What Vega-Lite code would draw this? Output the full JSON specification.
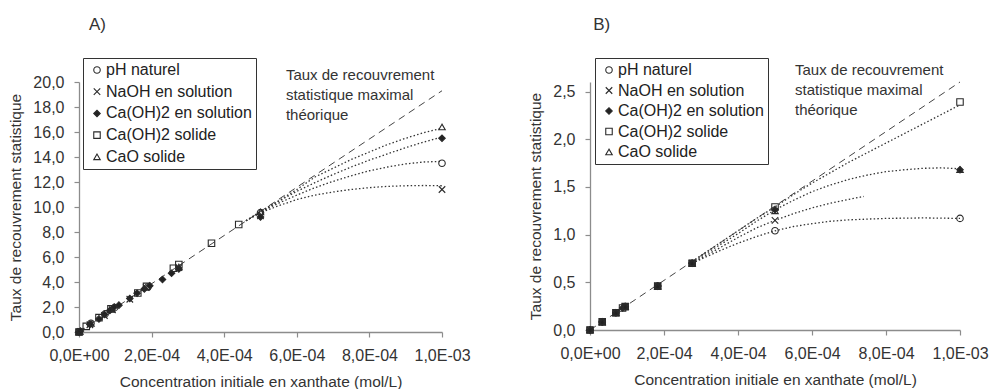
{
  "$schema": "https://vega.github.io/schema/vega-lite/v6.json",
  "padding": {"left": 8, "top": 15, "right": 5, "bottom": 5},
  "spacing": 57,
  "config": {
    "font": "Liberation Sans",
    "view": {"stroke": null},
    "axis": {"grid": false, "domainColor": "#8c8c8c", "domainWidth": 1.3, "tickColor": "#8c8c8c", "tickWidth": 1.2, "tickSize": 5, "labelFont": "Liberation Sans", "labelFontSize": 16, "labelColor": "#333", "titleFont": "Liberation Sans", "titleFontSize": 15.5, "titleFontWeight": "normal", "titleColor": "#333", "labelOverlap": false, "labelFlush": false},
    "axisX": {"labelPadding": 10, "titlePadding": 11},
    "axisY": {"labelPadding": 10, "titlePadding": 9},
    "legend": {"labelFont": "Liberation Sans", "labelFontSize": 16, "labelColor": "#222", "strokeColor": "#333", "fillColor": "white", "padding": 4, "symbolSize": 42, "symbolStrokeColor": "#2a2a2a", "symbolStrokeWidth": 1.1, "symbolOffset": 2, "labelOffset": 1}
  },
  "datasets": {
    "lineA": [{"x": 0, "y": 0}, {"x": 0.001, "y": 19.3}],
    "lineB": [{"x": 0, "y": 0}, {"x": 0.001, "y": 2.6}],
    "annA": [{"x": 0.00057, "y": 21.1, "t": "Taux de recouvrement\nstatistique maximal\nthéorique"}],
    "annB": [{"x": 0.000554, "y": 2.8, "t": "Taux de recouvrement\nstatistique maximal\nthéorique"}],
    "labA": [{"x": 0.0000275, "y": 24.56, "t": "A)"}],
    "labB": [{"x": 0.0000085, "y": 3.2, "t": "B)"}],
    "ptsA": [
      {"x": 0, "y": 0, "serie": "pH naturel"},
      {"x": 0, "y": 0, "serie": "NaOH en solution"},
      {"x": 0, "y": 0, "serie": "Ca(OH)2 en solution"},
      {"x": 0, "y": 0, "serie": "Ca(OH)2 solide"},
      {"x": 0, "y": 0, "serie": "CaO solide"},
      {"x": 0.000004, "y": 0.08, "serie": "Ca(OH)2 en solution"},
      {"x": 0.000004, "y": 0.05, "serie": "NaOH en solution"},
      {"x": 0.00002, "y": 0.45, "serie": "Ca(OH)2 solide"},
      {"x": 0.00003, "y": 0.6, "serie": "Ca(OH)2 en solution"},
      {"x": 0.00003, "y": 0.58, "serie": "NaOH en solution"},
      {"x": 0.000033, "y": 0.7, "serie": "pH naturel"},
      {"x": 0.000033, "y": 0.68, "serie": "CaO solide"},
      {"x": 0.000055, "y": 1.15, "serie": "Ca(OH)2 solide"},
      {"x": 0.000055, "y": 1.05, "serie": "Ca(OH)2 en solution"},
      {"x": 0.00007, "y": 1.4, "serie": "Ca(OH)2 en solution"},
      {"x": 0.00007, "y": 1.32, "serie": "NaOH en solution"},
      {"x": 0.000072, "y": 1.45, "serie": "pH naturel"},
      {"x": 0.000085, "y": 1.72, "serie": "Ca(OH)2 en solution"},
      {"x": 0.000088, "y": 1.85, "serie": "Ca(OH)2 solide"},
      {"x": 0.000092, "y": 1.78, "serie": "NaOH en solution"},
      {"x": 0.00009, "y": 1.85, "serie": "CaO solide"},
      {"x": 0.000097, "y": 2.0, "serie": "Ca(OH)2 en solution"},
      {"x": 0.000098, "y": 1.95, "serie": "pH naturel"},
      {"x": 0.00011, "y": 2.15, "serie": "Ca(OH)2 en solution"},
      {"x": 0.00014, "y": 2.68, "serie": "Ca(OH)2 en solution"},
      {"x": 0.00014, "y": 2.62, "serie": "NaOH en solution"},
      {"x": 0.00016, "y": 3.1, "serie": "Ca(OH)2 en solution"},
      {"x": 0.000162, "y": 3.12, "serie": "Ca(OH)2 solide"},
      {"x": 0.00018, "y": 3.45, "serie": "Ca(OH)2 en solution"},
      {"x": 0.000185, "y": 3.55, "serie": "NaOH en solution"},
      {"x": 0.000186, "y": 3.65, "serie": "Ca(OH)2 solide"},
      {"x": 0.00019, "y": 3.6, "serie": "pH naturel"},
      {"x": 0.000195, "y": 3.7, "serie": "Ca(OH)2 en solution"},
      {"x": 0.00023, "y": 4.2, "serie": "Ca(OH)2 en solution"},
      {"x": 0.000255, "y": 4.7, "serie": "Ca(OH)2 en solution"},
      {"x": 0.00026, "y": 5.1, "serie": "Ca(OH)2 solide"},
      {"x": 0.000275, "y": 5.05, "serie": "Ca(OH)2 en solution"},
      {"x": 0.000275, "y": 5.15, "serie": "NaOH en solution"},
      {"x": 0.000275, "y": 5.4, "serie": "Ca(OH)2 solide"},
      {"x": 0.000275, "y": 5.2, "serie": "CaO solide"},
      {"x": 0.000365, "y": 7.1, "serie": "Ca(OH)2 solide"},
      {"x": 0.00044, "y": 8.6, "serie": "Ca(OH)2 solide"},
      {"x": 0.0005, "y": 9.55, "serie": "pH naturel"},
      {"x": 0.0005, "y": 9.3, "serie": "NaOH en solution"},
      {"x": 0.0005, "y": 9.2, "serie": "Ca(OH)2 en solution"},
      {"x": 0.0005, "y": 9.6, "serie": "CaO solide"},
      {"x": 0.001, "y": 16.4, "serie": "CaO solide"},
      {"x": 0.001, "y": 15.5, "serie": "Ca(OH)2 en solution"},
      {"x": 0.001, "y": 13.5, "serie": "pH naturel"},
      {"x": 0.001, "y": 11.4, "serie": "NaOH en solution"}
    ],
    "curvesA": [
      {"x": 0.00046, "y": 8.9, "serie": "NaOH en solution"},
      {"x": 0.0005, "y": 9.55, "serie": "NaOH en solution"},
      {"x": 0.00055, "y": 10.1, "serie": "NaOH en solution"},
      {"x": 0.0006, "y": 10.6, "serie": "NaOH en solution"},
      {"x": 0.00065, "y": 10.95, "serie": "NaOH en solution"},
      {"x": 0.0007, "y": 11.2, "serie": "NaOH en solution"},
      {"x": 0.00075, "y": 11.4, "serie": "NaOH en solution"},
      {"x": 0.0008, "y": 11.55, "serie": "NaOH en solution"},
      {"x": 0.00085, "y": 11.65, "serie": "NaOH en solution"},
      {"x": 0.0009, "y": 11.7, "serie": "NaOH en solution"},
      {"x": 0.00095, "y": 11.72, "serie": "NaOH en solution"},
      {"x": 0.001, "y": 11.7, "serie": "NaOH en solution"},
      {"x": 0.00046, "y": 8.9, "serie": "pH naturel"},
      {"x": 0.0005, "y": 9.6, "serie": "pH naturel"},
      {"x": 0.00055, "y": 10.3, "serie": "pH naturel"},
      {"x": 0.0006, "y": 10.95, "serie": "pH naturel"},
      {"x": 0.00065, "y": 11.55, "serie": "pH naturel"},
      {"x": 0.0007, "y": 12.05, "serie": "pH naturel"},
      {"x": 0.00075, "y": 12.5, "serie": "pH naturel"},
      {"x": 0.0008, "y": 12.9, "serie": "pH naturel"},
      {"x": 0.00085, "y": 13.2, "serie": "pH naturel"},
      {"x": 0.0009, "y": 13.45, "serie": "pH naturel"},
      {"x": 0.00095, "y": 13.6, "serie": "pH naturel"},
      {"x": 0.001, "y": 13.65, "serie": "pH naturel"},
      {"x": 0.00046, "y": 8.9, "serie": "Ca(OH)2 en solution"},
      {"x": 0.0005, "y": 9.6, "serie": "Ca(OH)2 en solution"},
      {"x": 0.00055, "y": 10.45, "serie": "Ca(OH)2 en solution"},
      {"x": 0.0006, "y": 11.25, "serie": "Ca(OH)2 en solution"},
      {"x": 0.00065, "y": 11.95, "serie": "Ca(OH)2 en solution"},
      {"x": 0.0007, "y": 12.6, "serie": "Ca(OH)2 en solution"},
      {"x": 0.00075, "y": 13.2, "serie": "Ca(OH)2 en solution"},
      {"x": 0.0008, "y": 13.75, "serie": "Ca(OH)2 en solution"},
      {"x": 0.00085, "y": 14.25, "serie": "Ca(OH)2 en solution"},
      {"x": 0.0009, "y": 14.75, "serie": "Ca(OH)2 en solution"},
      {"x": 0.00095, "y": 15.2, "serie": "Ca(OH)2 en solution"},
      {"x": 0.001, "y": 15.6, "serie": "Ca(OH)2 en solution"},
      {"x": 0.00046, "y": 8.9, "serie": "CaO solide"},
      {"x": 0.0005, "y": 9.65, "serie": "CaO solide"},
      {"x": 0.00055, "y": 10.5, "serie": "CaO solide"},
      {"x": 0.0006, "y": 11.4, "serie": "CaO solide"},
      {"x": 0.00065, "y": 12.4, "serie": "CaO solide"},
      {"x": 0.0007, "y": 13.1, "serie": "CaO solide"},
      {"x": 0.00075, "y": 13.8, "serie": "CaO solide"},
      {"x": 0.0008, "y": 14.4, "serie": "CaO solide"},
      {"x": 0.00085, "y": 15.0, "serie": "CaO solide"},
      {"x": 0.0009, "y": 15.5, "serie": "CaO solide"},
      {"x": 0.00095, "y": 15.95, "serie": "CaO solide"},
      {"x": 0.001, "y": 16.3, "serie": "CaO solide"}
    ],
    "ptsB": [
      {"x": 0, "y": 0, "serie": "pH naturel"},
      {"x": 0, "y": 0, "serie": "NaOH en solution"},
      {"x": 0, "y": 0, "serie": "Ca(OH)2 en solution"},
      {"x": 0, "y": 0, "serie": "Ca(OH)2 solide"},
      {"x": 0, "y": 0, "serie": "CaO solide"},
      {"x": 0.000033, "y": 0.085, "serie": "pH naturel"},
      {"x": 0.000033, "y": 0.085, "serie": "NaOH en solution"},
      {"x": 0.000033, "y": 0.085, "serie": "Ca(OH)2 en solution"},
      {"x": 0.000033, "y": 0.085, "serie": "Ca(OH)2 solide"},
      {"x": 0.000033, "y": 0.085, "serie": "CaO solide"},
      {"x": 0.00007, "y": 0.18, "serie": "pH naturel"},
      {"x": 0.00007, "y": 0.18, "serie": "NaOH en solution"},
      {"x": 0.00007, "y": 0.18, "serie": "Ca(OH)2 en solution"},
      {"x": 0.00007, "y": 0.18, "serie": "Ca(OH)2 solide"},
      {"x": 0.00007, "y": 0.18, "serie": "CaO solide"},
      {"x": 0.000088, "y": 0.23, "serie": "Ca(OH)2 en solution"},
      {"x": 0.000088, "y": 0.23, "serie": "Ca(OH)2 solide"},
      {"x": 0.000095, "y": 0.245, "serie": "pH naturel"},
      {"x": 0.000095, "y": 0.245, "serie": "NaOH en solution"},
      {"x": 0.000095, "y": 0.245, "serie": "Ca(OH)2 en solution"},
      {"x": 0.000095, "y": 0.245, "serie": "Ca(OH)2 solide"},
      {"x": 0.000095, "y": 0.245, "serie": "CaO solide"},
      {"x": 0.000183, "y": 0.46, "serie": "pH naturel"},
      {"x": 0.000183, "y": 0.46, "serie": "NaOH en solution"},
      {"x": 0.000183, "y": 0.46, "serie": "Ca(OH)2 en solution"},
      {"x": 0.000183, "y": 0.46, "serie": "Ca(OH)2 solide"},
      {"x": 0.000183, "y": 0.46, "serie": "CaO solide"},
      {"x": 0.000276, "y": 0.7, "serie": "pH naturel"},
      {"x": 0.000276, "y": 0.7, "serie": "NaOH en solution"},
      {"x": 0.000276, "y": 0.7, "serie": "Ca(OH)2 en solution"},
      {"x": 0.000276, "y": 0.7, "serie": "Ca(OH)2 solide"},
      {"x": 0.000276, "y": 0.7, "serie": "CaO solide"},
      {"x": 0.0005, "y": 1.29, "serie": "Ca(OH)2 solide"},
      {"x": 0.0005, "y": 1.26, "serie": "Ca(OH)2 en solution"},
      {"x": 0.0005, "y": 1.25, "serie": "CaO solide"},
      {"x": 0.0005, "y": 1.15, "serie": "NaOH en solution"},
      {"x": 0.0005, "y": 1.04, "serie": "pH naturel"},
      {"x": 0.001, "y": 2.39, "serie": "Ca(OH)2 solide"},
      {"x": 0.001, "y": 1.68, "serie": "Ca(OH)2 en solution"},
      {"x": 0.001, "y": 1.68, "serie": "CaO solide"},
      {"x": 0.001, "y": 1.17, "serie": "pH naturel"}
    ],
    "curvesB": [
      {"x": 0.000276, "y": 0.7, "serie": "pH naturel"},
      {"x": 0.00035, "y": 0.83, "serie": "pH naturel"},
      {"x": 0.0004, "y": 0.91, "serie": "pH naturel"},
      {"x": 0.00045, "y": 0.98, "serie": "pH naturel"},
      {"x": 0.0005, "y": 1.04, "serie": "pH naturel"},
      {"x": 0.00055, "y": 1.085, "serie": "pH naturel"},
      {"x": 0.0006, "y": 1.115, "serie": "pH naturel"},
      {"x": 0.00065, "y": 1.14, "serie": "pH naturel"},
      {"x": 0.0007, "y": 1.155, "serie": "pH naturel"},
      {"x": 0.0008, "y": 1.17, "serie": "pH naturel"},
      {"x": 0.0009, "y": 1.175, "serie": "pH naturel"},
      {"x": 0.001, "y": 1.17, "serie": "pH naturel"},
      {"x": 0.000276, "y": 0.7, "serie": "NaOH en solution"},
      {"x": 0.00035, "y": 0.86, "serie": "NaOH en solution"},
      {"x": 0.0004, "y": 0.97, "serie": "NaOH en solution"},
      {"x": 0.00045, "y": 1.07, "serie": "NaOH en solution"},
      {"x": 0.0005, "y": 1.15, "serie": "NaOH en solution"},
      {"x": 0.00055, "y": 1.22, "serie": "NaOH en solution"},
      {"x": 0.0006, "y": 1.28, "serie": "NaOH en solution"},
      {"x": 0.00065, "y": 1.33, "serie": "NaOH en solution"},
      {"x": 0.0007, "y": 1.37, "serie": "NaOH en solution"},
      {"x": 0.00074, "y": 1.4, "serie": "NaOH en solution"},
      {"x": 0.000276, "y": 0.71, "serie": "Ca(OH)2 en solution"},
      {"x": 0.00035, "y": 0.89, "serie": "Ca(OH)2 en solution"},
      {"x": 0.0004, "y": 1.01, "serie": "Ca(OH)2 en solution"},
      {"x": 0.00045, "y": 1.14, "serie": "Ca(OH)2 en solution"},
      {"x": 0.0005, "y": 1.26, "serie": "Ca(OH)2 en solution"},
      {"x": 0.00055, "y": 1.36, "serie": "Ca(OH)2 en solution"},
      {"x": 0.0006, "y": 1.45, "serie": "Ca(OH)2 en solution"},
      {"x": 0.00065, "y": 1.52, "serie": "Ca(OH)2 en solution"},
      {"x": 0.0007, "y": 1.58, "serie": "Ca(OH)2 en solution"},
      {"x": 0.00075, "y": 1.625, "serie": "Ca(OH)2 en solution"},
      {"x": 0.0008, "y": 1.66, "serie": "Ca(OH)2 en solution"},
      {"x": 0.00085, "y": 1.68, "serie": "Ca(OH)2 en solution"},
      {"x": 0.0009, "y": 1.695, "serie": "Ca(OH)2 en solution"},
      {"x": 0.00095, "y": 1.7, "serie": "Ca(OH)2 en solution"},
      {"x": 0.001, "y": 1.69, "serie": "Ca(OH)2 en solution"},
      {"x": 0.000276, "y": 0.72, "serie": "Ca(OH)2 solide"},
      {"x": 0.00035, "y": 0.91, "serie": "Ca(OH)2 solide"},
      {"x": 0.0004, "y": 1.04, "serie": "Ca(OH)2 solide"},
      {"x": 0.00045, "y": 1.17, "serie": "Ca(OH)2 solide"},
      {"x": 0.0005, "y": 1.29, "serie": "Ca(OH)2 solide"},
      {"x": 0.00055, "y": 1.42, "serie": "Ca(OH)2 solide"},
      {"x": 0.0006, "y": 1.54, "serie": "Ca(OH)2 solide"},
      {"x": 0.00065, "y": 1.65, "serie": "Ca(OH)2 solide"},
      {"x": 0.0007, "y": 1.76, "serie": "Ca(OH)2 solide"},
      {"x": 0.00075, "y": 1.86, "serie": "Ca(OH)2 solide"},
      {"x": 0.0008, "y": 1.96, "serie": "Ca(OH)2 solide"},
      {"x": 0.00085, "y": 2.06, "serie": "Ca(OH)2 solide"},
      {"x": 0.0009, "y": 2.16, "serie": "Ca(OH)2 solide"},
      {"x": 0.00095, "y": 2.26, "serie": "Ca(OH)2 solide"},
      {"x": 0.001, "y": 2.36, "serie": "Ca(OH)2 solide"}
    ]
  },
  "hconcat": [
    {
      "width": 363,
      "height": 250,
      "encoding": {
        "x": {"field": "x", "type": "quantitative", "scale": {"domain": [0, 0.001], "nice": false, "zero": false},
              "axis": {"title": "Concentration initiale en xanthate (mol/L)", "values": [0, 0.0002, 0.0004, 0.0006, 0.0008, 0.001], "labelExpr": "['0,0E+00','2,0E-04','4,0E-04','6,0E-04','8,0E-04','1,0E-03'][round(datum.value*5000)]"}},
        "y": {"field": "y", "type": "quantitative", "scale": {"domain": [0, 20], "nice": false, "zero": false},
              "axis": {"title": "Taux de recouvrement statistique", "values": [0, 2, 4, 6, 8, 10, 12, 14, 16, 18, 20], "labelExpr": "replace(format(datum.value,'.1f'),'.',',')"}}
      },
      "layer": [
        {"data": {"name": "lineA"}, "mark": {"type": "line", "strokeDash": [7, 5], "color": "#444", "strokeWidth": 1}, "encoding": {}},
        {"data": {"name": "curvesA"}, "mark": {"type": "line", "strokeDash": [1.5, 2.2], "color": "#333", "strokeWidth": 1.3}, "encoding": {"detail": {"field": "serie", "type": "nominal"}}},
        {"data": {"name": "ptsA"}, "mark": {"type": "point", "strokeWidth": 1.1, "size": 42, "opacity": 1},
         "encoding": {
           "shape": {"field": "serie", "type": "nominal", "scale": {"domain": ["pH naturel", "NaOH en solution", "Ca(OH)2 en solution", "Ca(OH)2 solide", "CaO solide"], "range": ["circle", "M-1,-1L1,1M-1,1L1,-1", "diamond", "square", "triangle-up"]},
                     "legend": {"title": null, "orient": "none", "legendX": 4, "legendY": -24, "rowPadding": 5.7}},
           "fill": {"field": "serie", "type": "nominal", "scale": {"domain": ["pH naturel", "NaOH en solution", "Ca(OH)2 en solution", "Ca(OH)2 solide", "CaO solide"], "range": ["transparent", "transparent", "#222", "transparent", "transparent"]},
                     "legend": {"title": null, "orient": "none", "legendX": 4, "legendY": -24, "rowPadding": 5.7}},
           "stroke": {"field": "serie", "type": "nominal", "scale": {"domain": ["pH naturel", "NaOH en solution", "Ca(OH)2 en solution", "Ca(OH)2 solide", "CaO solide"], "range": ["#2a2a2a", "#2a2a2a", "#2a2a2a", "#2a2a2a", "#2a2a2a"]},
                     "legend": {"title": null, "orient": "none", "legendX": 4, "legendY": -24, "rowPadding": 5.7}}
         }},
        {"data": {"name": "annA"}, "mark": {"type": "text", "align": "left", "baseline": "top", "fontSize": 15, "lineHeight": 20, "lineBreak": "\n", "color": "#333"}, "encoding": {"text": {"field": "t", "type": "nominal"}}},
        {"data": {"name": "labA"}, "mark": {"type": "text", "align": "left", "baseline": "middle", "fontSize": 17, "color": "#333"}, "encoding": {"text": {"field": "t", "type": "nominal"}}}
      ]
    },
    {
      "width": 370,
      "height": 248,
      "encoding": {
        "x": {"field": "x", "type": "quantitative", "scale": {"domain": [0, 0.001], "nice": false, "zero": false},
              "axis": {"title": "Concentration initiale en xanthate (mol/L)", "values": [0, 0.0002, 0.0004, 0.0006, 0.0008, 0.001], "labelExpr": "['0,0E+00','2,0E-04','4,0E-04','6,0E-04','8,0E-04','1,0E-03'][round(datum.value*5000)]"}},
        "y": {"field": "y", "type": "quantitative", "scale": {"domain": [0, 2.6], "nice": false, "zero": false},
              "axis": {"title": "Taux de recouvrement statistique", "values": [0, 0.5, 1, 1.5, 2, 2.5], "labelExpr": "replace(format(datum.value,'.1f'),'.',',')"}}
      },
      "layer": [
        {"data": {"name": "lineB"}, "mark": {"type": "line", "strokeDash": [7, 5], "color": "#444", "strokeWidth": 1}, "encoding": {}},
        {"data": {"name": "curvesB"}, "mark": {"type": "line", "strokeDash": [1.5, 2.2], "color": "#333", "strokeWidth": 1.3}, "encoding": {"detail": {"field": "serie", "type": "nominal"}}},
        {"data": {"name": "ptsB"}, "mark": {"type": "point", "strokeWidth": 1.1, "size": 42, "opacity": 1},
         "encoding": {
           "shape": {"field": "serie", "type": "nominal", "scale": {"domain": ["pH naturel", "NaOH en solution", "Ca(OH)2 en solution", "Ca(OH)2 solide", "CaO solide"], "range": ["circle", "M-1,-1L1,1M-1,1L1,-1", "diamond", "square", "triangle-up"]},
                     "legend": {"title": null, "orient": "none", "legendX": 5, "legendY": -24, "rowPadding": 4.5}},
           "fill": {"field": "serie", "type": "nominal", "scale": {"domain": ["pH naturel", "NaOH en solution", "Ca(OH)2 en solution", "Ca(OH)2 solide", "CaO solide"], "range": ["transparent", "transparent", "#222", "transparent", "transparent"]},
                     "legend": {"title": null, "orient": "none", "legendX": 5, "legendY": -24, "rowPadding": 4.5}},
           "stroke": {"field": "serie", "type": "nominal", "scale": {"domain": ["pH naturel", "NaOH en solution", "Ca(OH)2 en solution", "Ca(OH)2 solide", "CaO solide"], "range": ["#2a2a2a", "#2a2a2a", "#2a2a2a", "#2a2a2a", "#2a2a2a"]},
                     "legend": {"title": null, "orient": "none", "legendX": 5, "legendY": -24, "rowPadding": 4.5}}
         }},
        {"data": {"name": "annB"}, "mark": {"type": "text", "align": "left", "baseline": "top", "fontSize": 15, "lineHeight": 20, "lineBreak": "\n", "color": "#333"}, "encoding": {"text": {"field": "t", "type": "nominal"}}},
        {"data": {"name": "labB"}, "mark": {"type": "text", "align": "left", "baseline": "middle", "fontSize": 17, "color": "#333"}, "encoding": {"text": {"field": "t", "type": "nominal"}}}
      ]
    }
  ],
  "resolve": {"scale": {"shape": "independent", "fill": "independent", "stroke": "independent", "x": "independent", "y": "independent"}, "legend": {"shape": "independent", "fill": "independent", "stroke": "independent"}}
}
